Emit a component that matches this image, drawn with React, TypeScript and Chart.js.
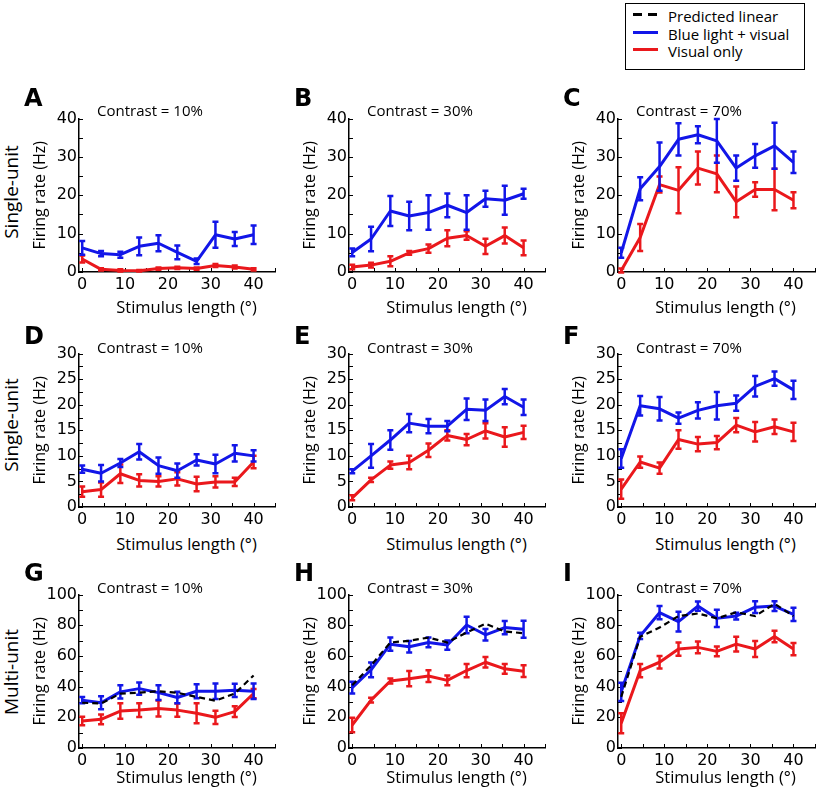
import React, { useEffect, useRef } from 'react';
import { Chart, registerables } from 'chart.js';
Chart.register(...registerables);

// ---------- data ----------
const lengths = [0, 4.4, 8.9, 13.3, 17.8, 22.2, 26.7, 31.1, 35.6, 40];
const xTicks = [0, 10, 20, 30, 40];
const xMinor = [0, 5, 10, 15, 20, 25, 30, 35, 40, 45];
const yTicks40 = [0, 10, 20, 30, 40];
const yMinor40 = [0, 5, 10, 15, 20, 25, 30, 35, 40];
const yTicks30 = [0, 5, 10, 15, 20, 25, 30];
const yMinor30 = [0, 2.5, 5, 7.5, 10, 12.5, 15, 17.5, 20, 22.5, 25, 27.5, 30];
const yTicks100 = [0, 20, 40, 60, 80, 100];
const yMinor100 = [0, 10, 20, 30, 40, 50, 60, 70, 80, 90, 100];

const aBlue = [6.3, 4.8, 4.5, 6.7, 7.5, 5.1, 2.8, 9.7, 8.6, 9.7];
const aBlueErr = [1.8, 0.7, 0.8, 2.3, 2.1, 1.8, 0.7, 3.4, 1.8, 2.4];
const aRed = [3.4, 0.7, 0.4, 0.3, 0.9, 1.1, 0.9, 1.7, 1.3, 0.7];
const aRedErr = [0.9, 0.3, 0.3, 0.2, 0.3, 0.3, 0.3, 0.4, 0.4, 0.3];

const bBlue = [5.1, 8.6, 15.9, 14.6, 15.5, 17.4, 15.5, 19.1, 18.7, 20.4];
const bBlueErr = [1.0, 3.2, 3.9, 3.7, 4.5, 3.1, 4.5, 2.1, 3.8, 1.3];
const bRed = [1.3, 1.8, 2.8, 5.0, 6.1, 8.8, 9.5, 6.7, 9.5, 6.3];
const bRedErr = [0.6, 0.6, 1.3, 0.5, 1.1, 2.1, 1.1, 2.0, 2.1, 1.9];

const cBlue = [5.0, 21.7, 27.5, 34.6, 35.8, 34.2, 27.1, 30.3, 32.9, 28.6];
const cBlueErr = [1.3, 3.0, 6.3, 4.2, 2.2, 5.7, 3.3, 3.1, 6.0, 2.8];
const cRed = [0.4, 9.0, 22.8, 21.3, 27.1, 25.6, 18.3, 21.5, 21.5, 18.7];
const cRedErr = [0.5, 3.5, 2.1, 6.0, 4.3, 4.8, 4.0, 1.9, 5.4, 2.1];

const dBlue = [7.4, 6.6, 8.6, 10.8, 8.1, 7.1, 9.2, 8.4, 10.5, 10.0];
const dBlueErr = [0.7, 1.6, 0.8, 1.5, 1.6, 1.4, 1.1, 1.8, 1.6, 1.1];
const dRed = [3.0, 3.4, 6.5, 5.2, 5.0, 5.5, 4.5, 4.9, 4.9, 8.8];
const dRedErr = [1.0, 1.4, 1.8, 1.2, 1.0, 1.3, 1.4, 1.1, 0.8, 1.2];

const eBlue = [7.0, 10.0, 13.1, 16.4, 15.8, 15.8, 19.1, 18.9, 21.6, 19.5];
const eBlueErr = [0.4, 2.3, 1.9, 1.8, 1.4, 1.0, 2.1, 2.1, 1.5, 1.5];
const eRed = [1.8, 5.3, 8.2, 8.7, 11.1, 14.0, 13.2, 14.9, 13.7, 14.6];
const eRedErr = [0.5, 0.4, 0.7, 1.3, 1.3, 1.0, 1.1, 1.5, 1.9, 1.3];

const fBlue = [9.5, 19.8, 19.2, 17.4, 18.9, 19.8, 20.3, 23.6, 25.1, 22.9];
const fBlueErr = [1.8, 1.9, 2.3, 1.1, 1.6, 2.7, 1.5, 2.0, 1.4, 1.8];
const fRed = [3.5, 8.8, 7.6, 13.2, 12.3, 12.6, 16.0, 14.7, 15.7, 14.7];
const fRedErr = [1.9, 1.1, 1.1, 1.8, 1.4, 1.3, 1.4, 1.9, 1.4, 1.8];

const gBlue = [31.2, 29.5, 36.6, 38.7, 36.1, 32.9, 37.0, 37.0, 37.6, 37.0];
const gBlueErr = [2.0, 4.3, 4.3, 4.0, 4.8, 3.8, 4.5, 5.0, 4.3, 5.0];
const gRed = [17.6, 18.7, 24.1, 24.7, 25.8, 24.7, 22.6, 20.0, 23.7, 35.5];
const gRedErr = [2.7, 3.2, 5.0, 4.5, 5.2, 4.3, 6.5, 4.3, 3.5, 3.0];
const gPred = [29.5, 29.0, 35.5, 36.1, 37.0, 36.0, 33.3, 30.8, 35.5, 47.3];

const hBlue = [39.4, 51.0, 67.7, 66.0, 68.8, 67.1, 80.2, 73.8, 78.5, 77.4];
const hBlueErr = [3.8, 4.8, 4.3, 3.8, 3.2, 3.0, 5.4, 3.8, 4.3, 5.6];
const hRed = [15.0, 31.2, 43.7, 45.2, 46.9, 44.1, 50.5, 55.9, 51.6, 50.1];
const hRedErr = [4.8, 1.5, 1.6, 5.0, 3.8, 3.2, 4.3, 3.4, 3.2, 3.8];
const hPred = [40.9, 53.8, 68.8, 69.9, 72.0, 68.8, 75.3, 81.1, 76.0, 74.8];

const iBlue = [36.6, 73.1, 88.2, 82.4, 92.5, 84.5, 86.0, 91.8, 92.5, 87.1];
const iBlueErr = [5.9, 2.0, 4.3, 6.5, 3.0, 5.6, 2.2, 3.8, 3.2, 4.3];
const iRed = [16.1, 50.5, 55.9, 64.5, 65.6, 63.0, 67.7, 64.5, 72.7, 64.5];
const iRedErr = [6.5, 4.3, 4.0, 4.3, 3.8, 3.2, 4.8, 5.2, 3.8, 4.0];
const iPred = [33.3, 72.5, 78.5, 86.0, 87.7, 84.5, 88.5, 86.0, 94.0, 86.0];

const contrasts = ['Contrast = 10%', 'Contrast = 30%', 'Contrast = 70%'];
const legendLabels = ['Predicted linear', 'Blue light + visual', 'Visual only'];

// ---------- style / layout ----------
const BLUE = 'rgb(18,22,232)';
const RED = 'rgb(234,24,28)';
const TICK_FONT = '"DejaVu Sans", sans-serif';
const TEXT_FONT = '"Open Sans", sans-serif';
const COL_LEFT = [79, 349, 618];
const COL_W = [196, 196, 197];
const ROW_TOP = [117, 352, 593];
const PLOT_H = 155;
const PAD_L = 48, PAD_R = 4, PAD_T = 10, PAD_B = 25;
const X_MIN = -0.75, X_MAX = 45;

type Spec = {
  letter: string; row: number; col: number;
  blue: number[]; blueErr: number[]; red: number[]; redErr: number[]; pred?: number[];
  yMax: number; yTicks: number[]; yMinor: number[];
};

const specs: Spec[] = [
  { letter: 'A', row: 0, col: 0, blue: aBlue, blueErr: aBlueErr, red: aRed, redErr: aRedErr, yMax: 40, yTicks: yTicks40, yMinor: yMinor40 },
  { letter: 'B', row: 0, col: 1, blue: bBlue, blueErr: bBlueErr, red: bRed, redErr: bRedErr, yMax: 40, yTicks: yTicks40, yMinor: yMinor40 },
  { letter: 'C', row: 0, col: 2, blue: cBlue, blueErr: cBlueErr, red: cRed, redErr: cRedErr, yMax: 40, yTicks: yTicks40, yMinor: yMinor40 },
  { letter: 'D', row: 1, col: 0, blue: dBlue, blueErr: dBlueErr, red: dRed, redErr: dRedErr, yMax: 30, yTicks: yTicks30, yMinor: yMinor30 },
  { letter: 'E', row: 1, col: 1, blue: eBlue, blueErr: eBlueErr, red: eRed, redErr: eRedErr, yMax: 30, yTicks: yTicks30, yMinor: yMinor30 },
  { letter: 'F', row: 1, col: 2, blue: fBlue, blueErr: fBlueErr, red: fRed, redErr: fRedErr, yMax: 30, yTicks: yTicks30, yMinor: yMinor30 },
  { letter: 'G', row: 2, col: 0, blue: gBlue, blueErr: gBlueErr, red: gRed, redErr: gRedErr, pred: gPred, yMax: 100, yTicks: yTicks100, yMinor: yMinor100 },
  { letter: 'H', row: 2, col: 1, blue: hBlue, blueErr: hBlueErr, red: hRed, redErr: hRedErr, pred: hPred, yMax: 100, yTicks: yTicks100, yMinor: yMinor100 },
  { letter: 'I', row: 2, col: 2, blue: iBlue, blueErr: iBlueErr, red: iRed, redErr: iRedErr, pred: iPred, yMax: 100, yTicks: yTicks100, yMinor: yMinor100 },
];

const errorBarPlugin = {
  id: 'errorBars',
  afterDatasetDraw(chart: any, args: any) {
    const ds = chart.data.datasets[args.index];
    if (!ds.errors) return;
    const { ctx, scales } = chart;
    const xs = scales.x, ys = scales.y;
    ctx.save();
    ctx.strokeStyle = ds.borderColor;
    ctx.lineWidth = 2.5;
    const cap = 3;
    ds.data.forEach((pt: any, i: number) => {
      const e = ds.errors[i];
      const px = xs.getPixelForValue(pt.x);
      const t = ys.getPixelForValue(pt.y + e);
      const b = ys.getPixelForValue(pt.y - e);
      ctx.beginPath();
      ctx.moveTo(px, t); ctx.lineTo(px, b);
      ctx.moveTo(px - cap, t); ctx.lineTo(px + cap, t);
      ctx.moveTo(px - cap, b); ctx.lineTo(px + cap, b);
      ctx.stroke();
    });
    ctx.restore();
  },
};

const innerTicksPlugin = {
  id: 'innerTicks',
  beforeDatasetsDraw(chart: any, _args: any, opts: any) {
    const { ctx, chartArea, scales } = chart;
    ctx.save();
    ctx.strokeStyle = '#000';
    ctx.lineWidth = 1;
    const len = 4;
    (opts.x || []).forEach((v: number) => {
      const px = Math.round(scales.x.getPixelForValue(v)) + 0.5;
      ctx.beginPath();
      ctx.moveTo(px, chartArea.bottom);
      ctx.lineTo(px, chartArea.bottom - len);
      ctx.stroke();
    });
    (opts.y || []).forEach((v: number) => {
      const py = Math.round(scales.y.getPixelForValue(v)) + 0.5;
      ctx.beginPath();
      ctx.moveTo(chartArea.left, py);
      ctx.lineTo(chartArea.left + len, py);
      ctx.stroke();
    });
    ctx.restore();
  },
};

function Panel({ spec }: { spec: Spec }) {
  const ref = useRef<HTMLCanvasElement>(null);
  const pw = COL_W[spec.col];
  const W = PAD_L + pw + PAD_R;
  const H = PAD_T + PLOT_H + PAD_B;
  useEffect(() => {
    const toXY = (arr: number[]) => arr.map((v, i) => ({ x: lengths[i], y: v }));
    const datasets: any[] = [];
    if (spec.pred) {
      datasets.push({
        label: legendLabels[0], data: toXY(spec.pred), borderColor: '#000', borderWidth: 2.2,
        borderDash: [6, 4], pointRadius: 0, fill: false, tension: 0,
      });
    }
    datasets.push({
      label: legendLabels[1], data: toXY(spec.blue), errors: spec.blueErr, borderColor: BLUE,
      borderWidth: 3, pointRadius: 0, fill: false, tension: 0, borderJoinStyle: 'round',
    });
    datasets.push({
      label: legendLabels[2], data: toXY(spec.red), errors: spec.redErr, borderColor: RED,
      borderWidth: 3, pointRadius: 0, fill: false, tension: 0, borderJoinStyle: 'round',
    });
    const chart = new Chart(ref.current as HTMLCanvasElement, {
      type: 'line',
      data: { datasets },
      options: {
        responsive: false,
        animation: false,
        devicePixelRatio: 1,
        layout: { padding: { top: PAD_T, right: PAD_R, left: 0, bottom: 0 } },
        plugins: {
          legend: { display: false },
          tooltip: { enabled: false },
          title: { display: false },
          innerTicks: { x: xMinor, y: spec.yMinor },
        } as any,
        scales: {
          x: {
            type: 'linear', min: X_MIN, max: X_MAX,
            afterBuildTicks: (s: any) => { s.ticks = xTicks.map((v) => ({ value: v })); },
            afterFit: (s: any) => { s.height = PAD_B; },
            grid: { display: false, drawTicks: false },
            border: { display: true, color: '#000', width: 1.5 },
            ticks: {
              color: '#000', font: { family: TICK_FONT, size: 16 }, padding: 3,
              maxRotation: 0, minRotation: 0, autoSkip: false,
              callback: (v: any) => String(v),
            },
          },
          y: {
            type: 'linear', min: 0, max: spec.yMax,
            afterBuildTicks: (s: any) => { s.ticks = spec.yTicks.map((v) => ({ value: v })); },
            afterFit: (s: any) => { s.width = PAD_L; },
            grid: { display: false, drawTicks: false },
            border: { display: true, color: '#000', width: 1.5 },
            ticks: {
              color: '#000', font: { family: TICK_FONT, size: 16 }, padding: 2,
              autoSkip: false, callback: (v: any) => String(v),
            },
            title: {
              display: true, text: 'Firing rate (Hz)', color: '#000',
              font: { family: TEXT_FONT, size: 16, lineHeight: 1.2 }, padding: 0,
            },
          },
        },
      } as any,
      plugins: [innerTicksPlugin, errorBarPlugin],
    });
    return () => chart.destroy();
  }, []);
  const left = COL_LEFT[spec.col] - PAD_L;
  const top = ROW_TOP[spec.row] - PAD_T;
  return (
    <canvas ref={ref} width={W} height={H}
      style={{ position: 'absolute', left, top, width: W, height: H }} />
  );
}

const abs = (o: any): React.CSSProperties => ({ position: 'absolute', whiteSpace: 'nowrap', lineHeight: 1, color: '#000', ...o });

export default function App() {
  const letterTops = [84, 322, 559];
  const titleTops = [100, 337, 577];
  const xTitleTops = [295, 532, 765];
  const rowLabels = [
    { text: 'Single-unit', cy: 192 },
    { text: 'Single-unit', cy: 425 },
    { text: 'Multi-unit', cy: 672 },
  ];
  return (
    <div style={{ position: 'absolute', left: 0, top: 0, width: 820, height: 795, background: '#fff', fontFamily: TEXT_FONT }}>
      {specs.map((s) => <Panel key={s.letter} spec={s} />)}
      {specs.map((s) => (
        <div key={'L' + s.letter} style={abs({ left: COL_LEFT[s.col] - 55, top: letterTops[s.row], font: `bold 24px ${TICK_FONT}` })}>{s.letter}</div>
      ))}
      {specs.map((s) => (
        <div key={'T' + s.letter} style={abs({ left: COL_LEFT[s.col] + 18, top: titleTops[s.row], font: `15px ${TEXT_FONT}` })}>{contrasts[s.col]}</div>
      ))}
      {specs.map((s) => (
        <div key={'X' + s.letter} style={abs({ left: COL_LEFT[s.col] + 107.5, top: xTitleTops[s.row], transform: 'translateX(-50%)', font: `16.5px ${TEXT_FONT}` })}>Stimulus length (°)</div>
      ))}
      {rowLabels.map((r, i) => (
        <div key={'R' + i} style={abs({ left: 10.5, top: r.cy, transform: 'translate(-50%, -50%) rotate(-90deg)', font: `19px ${TEXT_FONT}` })}>{r.text}</div>
      ))}
      <div style={{ position: 'absolute', left: 625, top: 3, width: 180, height: 67, border: '1px solid #000', boxSizing: 'border-box', background: '#fff' }}>
        {legendLabels.map((lab, i) => (
          <div key={lab}>
            <div style={{
              position: 'absolute', left: 7, top: 9 + i * 17.5, width: 25, height: 3,
              background: i === 0 ? 'repeating-linear-gradient(to right, #000 0 9px, transparent 9px 15px)' : (i === 1 ? BLUE : RED),
            }} />
            <div style={abs({ left: 42, top: 2 + i * 17.5, font: `15px ${TEXT_FONT}` })}>{lab}</div>
          </div>
        ))}
      </div>
    </div>
  );
}
